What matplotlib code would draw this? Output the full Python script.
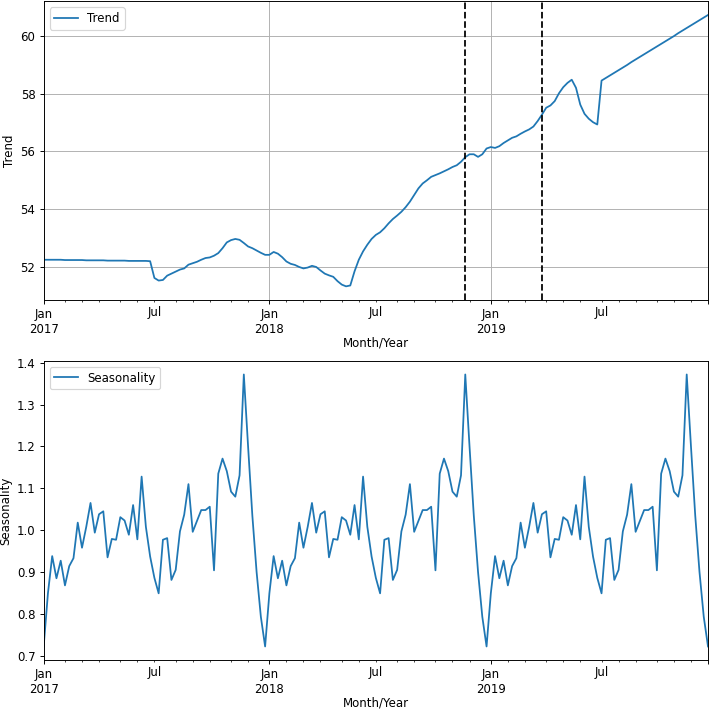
"""Trend and seasonality plot for weekly series."""

import matplotlib
matplotlib.use('Agg')
import matplotlib.pyplot as plt
import pandas as pd

# weekly dates, Sunday ending
start_date = '2017-01-01'
n_weeks = 157

# trend component
trend = [
    52.25, 52.25, 52.25, 52.25, 52.25, 52.24, 52.24, 52.24, 52.24, 52.24,
    52.23, 52.23, 52.23, 52.23, 52.23, 52.22, 52.22, 52.22, 52.22, 52.22,
    52.21, 52.21, 52.21, 52.21, 52.21, 52.20,
    51.62, 51.53, 51.55, 51.70, 51.77, 51.84, 51.91, 51.95, 52.08, 52.13,
    52.18, 52.25, 52.31, 52.33, 52.39, 52.48, 52.65, 52.85, 52.93, 52.97,
    52.94, 52.83, 52.71, 52.65, 52.57, 52.49, 52.42, 52.42, 52.52, 52.46,
    52.34, 52.19, 52.11, 52.07, 52.00,
    51.95, 51.98, 52.04, 52.00, 51.88, 51.77, 51.71, 51.66, 51.51, 51.39,
    51.33, 51.36, 51.85, 52.25, 52.54, 52.77, 52.97, 53.11, 53.20, 53.34,
    53.51, 53.66, 53.78, 53.91, 54.07, 54.26, 54.49, 54.72, 54.89, 55.00,
    55.12, 55.18, 55.24, 55.31, 55.38, 55.46, 55.52, 55.64, 55.80,
    55.90, 55.90, 55.81, 55.90, 56.10, 56.15, 56.12, 56.18, 56.29, 56.38,
    56.47, 56.52, 56.61, 56.69, 56.76, 56.86, 57.05, 57.27, 57.51, 57.59,
    57.74, 58.01, 58.22, 58.37, 58.48, 58.20, 57.62, 57.30, 57.13, 57.01,
    56.93,
    58.45, 58.54, 58.63, 58.72, 58.81, 58.90, 58.99, 59.09, 59.18, 59.27,
    59.36, 59.45, 59.54, 59.63, 59.72, 59.81, 59.90, 59.99, 60.09, 60.18,
    60.27, 60.36, 60.45, 60.54, 60.63, 60.72,
]

# one yearly cycle (52 weeks) of the seasonal factors
season_cycle = [
    0.722, 0.849, 0.938, 0.885, 0.927, 0.868, 0.914, 0.933, 1.018, 0.958,
    1.008, 1.065, 0.994, 1.038, 1.045, 0.935, 0.979, 0.977, 1.031, 1.023,
    0.989, 1.060, 0.978, 1.128, 1.008, 0.937, 0.886, 0.849, 0.977, 0.981,
    0.881, 0.905, 0.997, 1.037, 1.110, 0.996, 1.022, 1.048, 1.048, 1.056,
    0.904, 1.135, 1.171, 1.141, 1.092, 1.080, 1.131, 1.372, 1.200, 1.035,
    0.900, 0.793,
]
seasonality = season_cycle * 3 + season_cycle[:1]

# change points marked on the trend
change_points = ['2018-11-25', '2019-03-31']

dates = pd.date_range(start_date, periods=n_weeks, freq='W-SUN')
trend_s = pd.Series(trend, index=dates, name='Trend')
season_s = pd.Series(seasonality, index=dates, name='Seasonality')

dpi = 85
fig = plt.figure(figsize=(709 / dpi, 709 / dpi), dpi=dpi)
ax1 = fig.add_axes([0.0616, 0.577, 0.937, 0.421])
ax2 = fig.add_axes([0.0616, 0.069, 0.937, 0.422])

trend_s.plot(ax=ax1, grid=True, legend=True)
for cp in change_points:
    ax1.axvline(pd.Timestamp(cp), color='k', linestyle='--', linewidth=1.5)
ax1.set_ylabel('Trend')
ax1.set_xlabel('Month/Year', labelpad=0)
ax1.legend(loc='upper left')

season_s.plot(ax=ax2, legend=True)
ax2.set_ylabel('Seasonality')
ax2.set_xlabel('Month/Year', labelpad=0)
ax2.legend(loc='upper left')

fig.savefig('out.png', dpi=dpi)
